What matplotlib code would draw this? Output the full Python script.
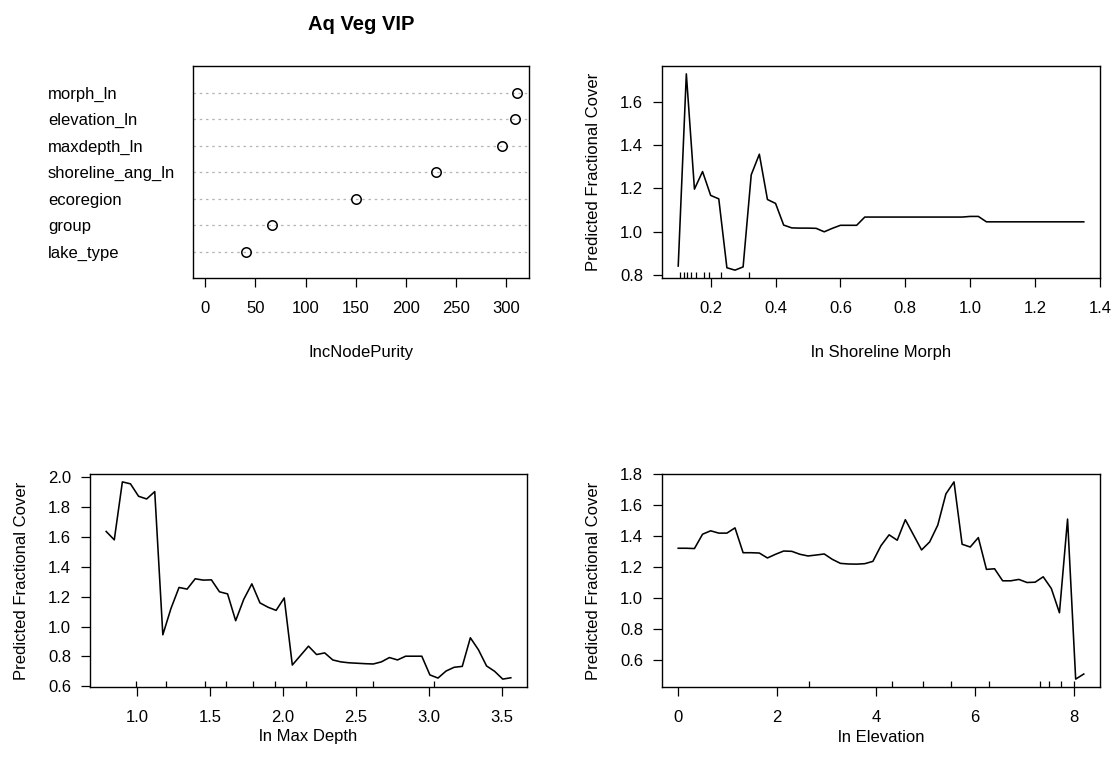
import numpy as np
import matplotlib
matplotlib.use("Agg")
import matplotlib.pyplot as plt
from matplotlib.ticker import FormatStrFormatter

plt.rcParams['font.family'] = ['Liberation Sans', 'DejaVu Sans']
plt.rcParams['font.size'] = 12

# random forest variable importance
vip_vars = ["morph_ln", "elevation_ln", "maxdepth_ln", "shoreline_ang_ln",
            "ecoregion", "group", "lake_type"]
vip_purity = [310.8, 309.0, 296.4, 230.0, 150.5, 66.0, 41.0]

# partial dependence: ln shoreline morph (51 grid points)
morph_range = (0.10, 1.35)
morph_pd = [0.842, 1.729, 1.197, 1.278, 1.168, 1.152, 0.834, 0.823, 0.838, 1.263,
            1.358, 1.149, 1.131, 1.031, 1.018, 1.017, 1.017, 1.016, 1.000, 1.016,
            1.030, 1.030, 1.030, 1.068, 1.068, 1.068, 1.068, 1.068, 1.068, 1.068,
            1.068, 1.068, 1.068, 1.068, 1.068, 1.068, 1.071, 1.071, 1.046, 1.046,
            1.046, 1.046, 1.046, 1.046, 1.046, 1.046, 1.046, 1.046, 1.046, 1.046,
            1.046]
morph_rug = [0.107, 0.117, 0.126, 0.139, 0.154, 0.179, 0.196, 0.232, 0.319]

# partial dependence: ln max depth
depth_range = (0.787, 3.562)
depth_pd = [1.635, 1.579, 1.966, 1.953, 1.870, 1.852, 1.901, 0.945, 1.120, 1.261,
            1.250, 1.319, 1.310, 1.312, 1.232, 1.218, 1.039, 1.182, 1.285, 1.158,
            1.129, 1.108, 1.191, 0.743, 0.806, 0.869, 0.813, 0.824, 0.777, 0.764,
            0.758, 0.755, 0.752, 0.750, 0.764, 0.793, 0.777, 0.802, 0.802, 0.802,
            0.677, 0.656, 0.703, 0.728, 0.734, 0.925, 0.845, 0.737, 0.701, 0.649,
            0.658]
depth_rug = [0.993, 1.195, 1.462, 1.610, 1.792, 1.943, 2.154, 2.618, 3.034]

# partial dependence: ln elevation
elev_range = (0.0, 8.2)
elev_pd = [1.322, 1.322, 1.320, 1.413, 1.435, 1.420, 1.420, 1.454, 1.293, 1.293,
           1.291, 1.259, 1.283, 1.304, 1.302, 1.283, 1.272, 1.278, 1.285, 1.250,
           1.224, 1.220, 1.219, 1.222, 1.237, 1.339, 1.409, 1.374, 1.507, 1.409,
           1.311, 1.363, 1.472, 1.674, 1.752, 1.348, 1.330, 1.391, 1.185, 1.189,
           1.111, 1.111, 1.120, 1.100, 1.102, 1.137, 1.061, 0.904, 1.511, 0.474,
           0.507]
elev_rug = [2.637, 4.322, 4.959, 5.511, 6.276, 7.309, 7.490, 7.732, 8.0]

W, H = 1113, 770
fig = plt.figure(figsize=(W / 100, H / 100), dpi=100)


def box(l, r, t, b):
    return fig.add_axes([l / W, 1 - b / H, (r - l) / W, (b - t) / H])


def padded(lo, hi):
    d = (hi - lo) * 0.04
    return lo - d, hi + d


def style(ax):
    for s in ax.spines.values():
        s.set_linewidth(1.0)
    ax.tick_params(direction='out', length=6.7, width=0.9, colors='black')
    ax.tick_params(axis='x', pad=10)
    ax.tick_params(axis='y', pad=7)


def pd_panel(ax, rng, yhat, rug, xlab, xticks, yticks, xfmt, px_w, px_h, xlab_off):
    x = np.linspace(rng[0], rng[1], len(yhat))
    ax.plot(x, yhat, color='black', lw=1.15)
    ax.set_xlim(padded(min(x), max(x)))
    ax.set_ylim(padded(min(yhat), max(yhat)))
    ax.vlines(rug, 0, 0.03, transform=ax.get_xaxis_transform(),
              color='black', lw=0.9)
    ax.set_xticks(xticks)
    ax.set_yticks(yticks)
    ax.xaxis.set_major_formatter(FormatStrFormatter(xfmt))
    ax.yaxis.set_major_formatter(FormatStrFormatter('%.1f'))
    style(ax)
    ax.set_xlabel(xlab, va='center')
    ax.set_ylabel("Predicted Fractional Cover", va='center')
    ax.xaxis.set_label_coords(0.5, -xlab_off / px_h)
    ax.yaxis.set_label_coords(-68 / px_w, 0.5)


# --- variable importance dot chart ---
ax1 = box(193, 529, 66, 278)
n = len(vip_vars)
ypos = np.arange(n, 0, -1)
for yy in ypos:
    ax1.axhline(yy, color='#b4b4b4', lw=0.9, ls=(0, (2, 3)))
ax1.plot(vip_purity, ypos, 'o', mfc='none', mec='black', ms=6.8, mew=1.1)
ax1.set_ylim(0, n + 1)
ax1.set_xlim(padded(0, max(vip_purity)))
ax1.set_xticks(np.arange(0, 301, 50))
ax1.set_yticks(ypos)
ax1.set_yticklabels(vip_vars, ha='left')
style(ax1)
ax1.tick_params(axis='y', length=0, pad=104.4)
ax1.set_xlabel("IncNodePurity", va='center')
ax1.xaxis.set_label_coords(0.5, -74 / 212)
ax1.set_title("Aq Veg VIP", fontweight='bold', fontsize=14.5,
              y=1 + 42 / 212, va='center', pad=0)

# --- partial dependence panels ---
ax2 = box(662, 1100, 66, 278)
pd_panel(ax2, morph_range, morph_pd, morph_rug, "ln Shoreline Morph",
         np.arange(0.2, 1.41, 0.2), np.arange(0.8, 1.61, 0.2), '%.1f',
         438, 212, 74)

ax3 = box(90, 527, 474, 687)
pd_panel(ax3, depth_range, depth_pd, depth_rug, "ln Max Depth",
         np.arange(1.0, 3.51, 0.5), np.arange(0.6, 2.01, 0.2), '%.1f',
         437, 213, 50)

ax4 = box(662, 1100, 474, 687)
pd_panel(ax4, elev_range, elev_pd, elev_rug, "ln Elevation",
         np.arange(0, 9, 2), np.arange(0.6, 1.81, 0.2), '%d',
         438, 213, 50)

fig.savefig("out.png", dpi=100)
